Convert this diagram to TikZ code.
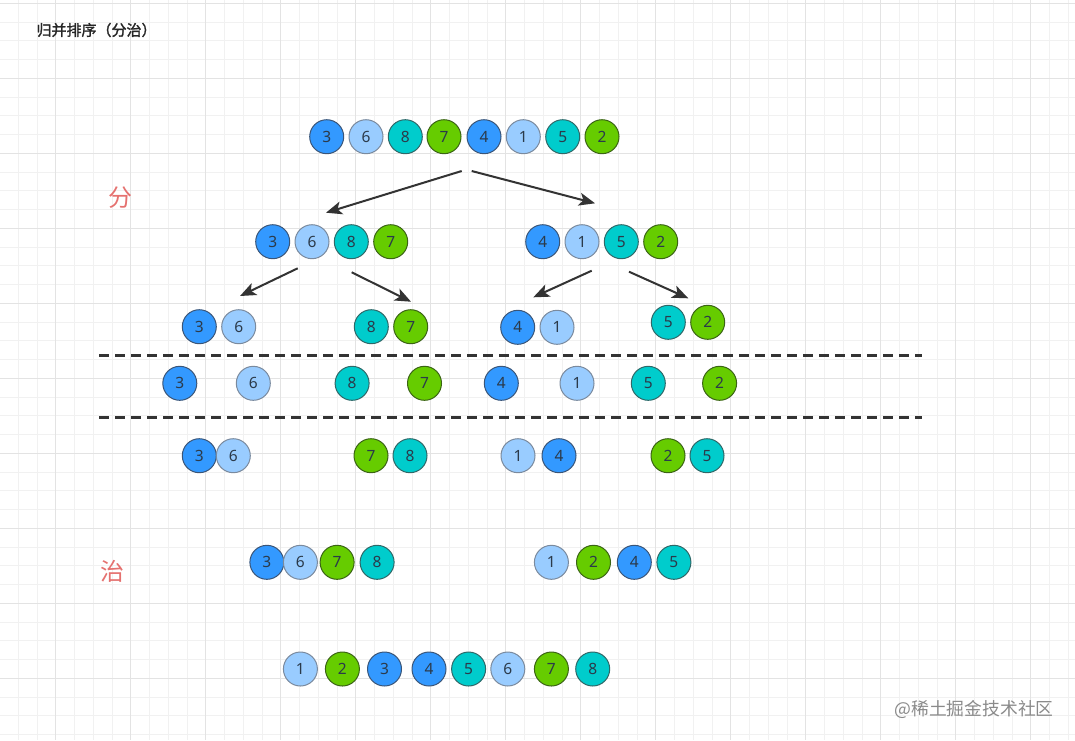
\documentclass[tikz,border=0pt]{standalone}
\usepackage{fontspec}
\newfontfamily\cjk{Noto Sans CJK SC}
\newfontfamily\cjkbold[FakeBold=1.8]{Noto Sans CJK SC}
\newfontfamily\numfont{Noto Sans}
\usetikzlibrary{arrows.meta}

\definecolor{gridminor}{HTML}{F1F1F1}
\definecolor{gridmajor}{HTML}{E3E3E3}
\definecolor{blueball}{HTML}{3399FF}
\definecolor{blueedge}{HTML}{3A5578}
\definecolor{lightball}{HTML}{99CCFF}
\definecolor{lightedge}{HTML}{7A8A9E}
\definecolor{tealball}{HTML}{00CCCC}
\definecolor{tealedge}{HTML}{2F6868}
\definecolor{greenball}{HTML}{66CC00}
\definecolor{greenedge}{HTML}{3B6415}
\definecolor{numtext}{HTML}{2B3A4A}
\definecolor{arrowgray}{HTML}{333333}
\definecolor{titletext}{HTML}{262626}
\definecolor{phasered}{HTML}{E5716F}
\definecolor{marktext}{HTML}{8A8A8A}

\tikzset{
    ball/.style={circle, draw, line width=1pt, minimum size=34pt, inner sep=0pt,
        text=numtext, font=\numfont\fontsize{15.5}{15.5}\selectfont},
    num1/.style={fill=lightball, draw=lightedge},
    num6/.style={fill=lightball, draw=lightedge},
    num3/.style={fill=blueball, draw=blueedge},
    num4/.style={fill=blueball, draw=blueedge},
    num5/.style={fill=tealball, draw=tealedge},
    num8/.style={fill=tealball, draw=tealedge},
    num2/.style={fill=greenball, draw=greenedge},
    num7/.style={fill=greenball, draw=greenedge},
    split/.style={line width=2pt, draw=arrowgray, -{Stealth[length=16pt, width=13pt, inset=4pt]}},
    cut/.style={line width=2.5pt, draw=arrowgray, dash pattern=on 10pt off 6pt},
    phase/.style={text=phasered, font=\cjk\fontsize{24}{24}\selectfont},
}

\begin{document}
\begin{tikzpicture}[x=1pt, y=-1pt]

    % page and grid
    \useasboundingbox (0,0) rectangle (1075,740);
    \fill[white] (0,0) rectangle (1075,740);
    \foreach \k in {0,...,57} {
        \draw[gridminor, line width=0.8pt] (-0.55+18.75*\k,0) -- (-0.55+18.75*\k,740);
    }
    \foreach \k in {0,...,39} {
        \draw[gridminor, line width=0.8pt] (0,3.3+18.75*\k) -- (1075,3.3+18.75*\k);
    }
    \foreach \k in {0,...,14} {
        \draw[gridmajor, line width=0.9pt] (55.7+75*\k-75,0) -- (55.7+75*\k-75,740);
    }
    \foreach \k in {0,...,9} {
        \draw[gridmajor, line width=0.9pt] (0,3.3+75*\k) -- (1075,3.3+75*\k);
    }

    % titles
    \node[anchor=west, text=titletext, font=\cjkbold\fontsize{15}{15}\selectfont] (title) at (33,30) {归并排序（分治）};
    \node[phase] (fen) at (120.5,198) {分};
    \node[phase] (zhi) at (112,571) {治};
    \node[anchor=west, text=marktext, font=\cjk\fontsize{17.8}{17.8}\selectfont] (mark) at (891,709.3) {@稀土掘金技术社区};

    % split rows
    \foreach \x/\d [count=\i] in {326.7/3,366/6,405.3/8,444/7,484/4,523.3/1,562.7/5,602/2}
        \node[ball, num\d] (a\i) at (\x,136.7) {\d};
    \foreach \x/\d [count=\i] in {272.7/3,312/6,351.3/8,390.7/7,542.7/4,582/1,621.3/5,660.7/2}
        \node[ball, num\d] (b\i) at (\x,241.7) {\d};
    \foreach \x/\y/\d [count=\i] in {199.3/326.7/3,238.7/326.7/6,371.3/326.7/8,410.7/326.7/7,517.7/327.3/4,557/327.3/1,668.3/322.3/5,707.7/322.3/2}
        \node[ball, num\d] (c\i) at (\x,\y) {\d};

    % single elements
    \draw[cut] (99,355.7) -- (922,355.7);
    \foreach \x/\d [count=\i] in {179.8/3,253.3/6,352.1/8,424.5/7,501.3/4,577/1,648.3/5,719.6/2}
        \node[ball, num\d] (d\i) at (\x,383.3) {\d};
    \draw[cut] (99,417.3) -- (922,417.3);

    % merge rows
    \foreach \x/\d [count=\i] in {199.3/3,233.3/6,371/7,410/8,518/1,559/4,668/2,707/5}
        \node[ball, num\d] (e\i) at (\x,455.7) {\d};
    \foreach \x/\d [count=\i] in {266.9/3,300.4/6,337.1/7,377.1/8,551.4/1,593.5/2,634.3/4,673.9/5}
        \node[ball, num\d] (f\i) at (\x,562.3) {\d};
    \foreach \x/\d [count=\i] in {300.4/1,342.4/2,384.5/3,429/4,468.6/5,507.8/6,551.4/7,592.7/8}
        \node[ball, num\d] (g\i) at (\x,669) {\d};

    % arrow ends
    \coordinate (s1) at (461.7,171);
    \coordinate (t1) at (326,212.7);
    \coordinate (s2) at (471.7,171);
    \coordinate (t2) at (595,203.3);
    \coordinate (s3) at (297.7,268.3);
    \coordinate (t3) at (240,296);
    \coordinate (s4) at (351.7,272.3);
    \coordinate (t4) at (411,301.7);
    \coordinate (s5) at (591.7,270.7);
    \coordinate (t5) at (533.3,297.3);
    \coordinate (s6) at (629,271.7);
    \coordinate (t6) at (688.3,298.3);
    \foreach \i in {1,...,6}
        \draw[split] (s\i) -- (t\i);

\end{tikzpicture}
\end{document}
